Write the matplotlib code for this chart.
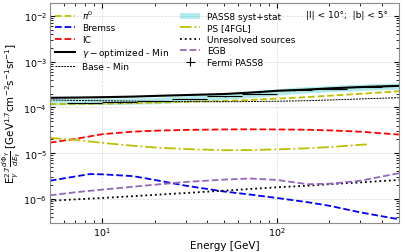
import numpy as np
import matplotlib
matplotlib.use('Agg')
import matplotlib.pyplot as plt

# model components, E in GeV, flux E^2.7 dPhi/dE
E = [5, 7, 10, 15, 20, 30, 50, 70, 100, 150, 200, 300, 500]
pi0 = [1.18e-4, 1.19e-4, 1.2e-4, 1.24e-4, 1.27e-4, 1.32e-4, 1.38e-4, 1.45e-4,
       1.55e-4, 1.68e-4, 1.8e-4, 1.98e-4, 2.25e-4]
ic = [1.7e-5, 2.05e-5, 2.6e-5, 2.95e-5, 3.1e-5, 3.22e-5, 3.3e-5, 3.32e-5,
      3.3e-5, 3.25e-5, 3.15e-5, 2.95e-5, 2.55e-5]
gamma_opt = [1.62e-4, 1.64e-4, 1.67e-4, 1.72e-4, 1.78e-4, 1.86e-4, 1.96e-4,
             2.1e-4, 2.3e-4, 2.45e-4, 2.6e-4, 2.78e-4, 2.95e-4]
base_min = [1.45e-4, 1.42e-4, 1.4e-4, 1.37e-4, 1.35e-4, 1.34e-4, 1.33e-4,
            1.34e-4, 1.36e-4, 1.4e-4, 1.45e-4, 1.53e-4, 1.63e-4]
unres = [9.1e-7, 9.8e-7, 1.05e-6, 1.15e-6, 1.23e-6, 1.35e-6, 1.52e-6, 1.65e-6,
         1.8e-6, 1.95e-6, 2.1e-6, 2.3e-6, 2.6e-6]
egb = [1.2e-6, 1.4e-6, 1.6e-6, 1.85e-6, 2.05e-6, 2.35e-6, 2.65e-6, 2.8e-6,
       2.6e-6, 2.1e-6, 2.15e-6, 2.5e-6, 3.65e-6]

E_brem = [5, 7, 8.5, 10, 15, 20, 30, 50, 70, 100, 150, 200, 300, 500]
brem = [2.5e-6, 3.1e-6, 3.5e-6, 3.45e-6, 3.15e-6, 2.6e-6, 1.95e-6, 1.45e-6,
        1.25e-6, 1.05e-6, 8.5e-7, 7.1e-7, 5.1e-7, 3.6e-7]

E_ps = [5, 7, 10, 15, 20, 30, 50, 70, 100, 150, 200, 300, 330]
ps = [2.15e-5, 1.95e-5, 1.68e-5, 1.45e-5, 1.33e-5, 1.23e-5, 1.16e-5, 1.17e-5,
      1.21e-5, 1.28e-5, 1.36e-5, 1.52e-5, 1.56e-5]

# Fermi PASS8 data (bins of 0.2 dex)
logE_fermi = [0.9, 1.1, 1.3, 1.5, 1.7, 1.9, 2.1, 2.3, 2.5]
fermi = [1.27e-4, 1.29e-4, 1.35e-4, 1.52e-4, 1.75e-4, 2.0e-4, 2.4e-4, 2.58e-4, 2.85e-4]
fermi_err = [3e-6, 3e-6, 3e-6, 4e-6, 5e-6, 6e-6, 8e-6, 1e-5, 1.3e-5]

# PASS8 syst+stat band
E_band = [5, 8, 12.6, 20, 31.6, 50, 79, 126, 200, 316, 500]
band_lo = [1.12e-4, 1.15e-4, 1.16e-4, 1.2e-4, 1.3e-4, 1.5e-4, 1.7e-4, 2.0e-4,
           2.2e-4, 2.35e-4, 2.5e-4]
band_hi = [1.55e-4, 1.58e-4, 1.6e-4, 1.65e-4, 1.8e-4, 2.05e-4, 2.35e-4, 2.75e-4,
           3.0e-4, 3.25e-4, 3.4e-4]

plt.rcParams['font.size'] = 6.5

fig = plt.figure(figsize=(4.05, 2.53), dpi=100)
ax = fig.add_axes([0.123, 0.115, 0.862, 0.869])

l1, = ax.plot(E, pi0, '--', color='y', lw=1.3, label=r'$\pi^0$')
l2, = ax.plot(E_brem, brem, '--', color='b', lw=1.3, label='Bremss')
l3, = ax.plot(E, ic, '--', color='r', lw=1.3, label='IC')
l4, = ax.plot(E, gamma_opt, '-', color='k', lw=1.5, label=r'$\gamma-$optimized - Min')
l5, = ax.plot(E, base_min, ls=(0, (2, 1)), color='k', lw=0.7, label='Base - Min')
b = ax.fill_between(E_band, band_lo, band_hi, color='c', alpha=0.3, lw=0,
                    label='PASS8 syst+stat')
l6, = ax.plot(E_ps, ps, '-.', color='y', lw=1.3, label='PS [4FGL]')
l7, = ax.plot(E, unres, ':', color='k', lw=1.3, label='Unresolved sources')
l8, = ax.plot(E, egb, '--', color='tab:purple', lw=1.3, label='EGB')

Ef = 10 ** np.array(logE_fermi)
xlo = Ef - 10 ** (np.array(logE_fermi) - 0.1)
xhi = 10 ** (np.array(logE_fermi) + 0.1) - Ef
e = ax.errorbar(Ef, fermi, xerr=[xlo, xhi], yerr=fermi_err, fmt='none',
                ecolor='k', elinewidth=0.8, label='Fermi PASS8')

ax.set_xscale('log')
ax.set_yscale('log')
ax.set_xlim(5, 500)
ax.set_ylim(3e-7, 1.9e-2)
ax.set_xlabel('Energy [GeV]', fontsize=7.5, labelpad=1)
ax.set_ylabel(r'E$_\gamma^{2.7}\frac{d\Phi_\gamma}{dE_\gamma}$ [GeV$^{1.7}$cm$^{-2}$s$^{-1}$sr$^{-1}$]',
              fontsize=7.4, labelpad=0)
ax.tick_params(which='both', direction='in', top=True, right=True, labelsize=6.8, pad=2)
ax.grid(True, which='major', color='0.85', ls='--', lw=0.5)
for s in ax.spines.values():
    s.set_edgecolor('0.55')

ax.legend(handles=[l1, l2, l3, l4, l5, b, l6, l7, l8, e], ncol=2, loc='upper left',
          frameon=False, fontsize=6.5, handlelength=2.2, columnspacing=1.2,
          labelspacing=0.28, borderaxespad=0.2)
ax.text(0.97, 0.95, '|l| < 10°;  |b| < 5°', transform=ax.transAxes,
        ha='right', va='center', fontsize=6.5)

fig.savefig('out.png', dpi=100)
